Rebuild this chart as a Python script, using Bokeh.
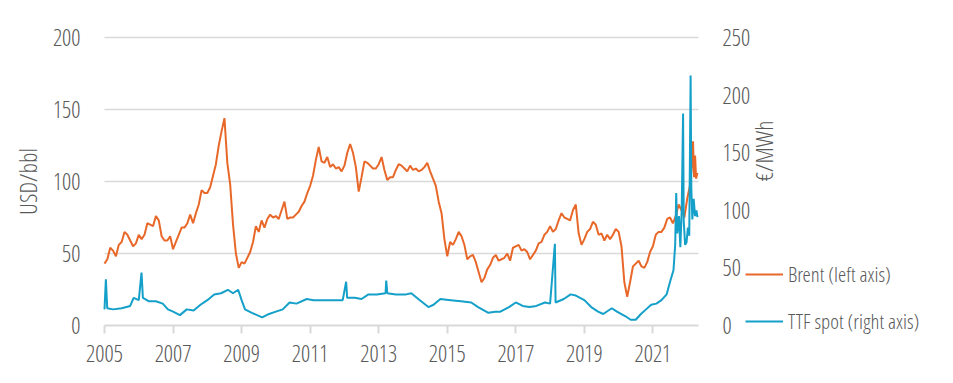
import math
from bokeh.plotting import figure
from bokeh.models import Range1d, LinearAxis, FixedTicker, Legend, LegendItem
from bokeh.embed import file_html
from bokeh.resources import INLINE

# ---------------- data ----------------
# Brent, USD/bbl, monthly Jan 2005 .. Dec 2021
brent_monthly = [
    43, 46, 54, 52, 48, 56, 58, 65, 63, 59, 55, 57,          # 2005
    63, 60, 63, 71, 70, 69, 76, 73, 62, 59, 59, 62,          # 2006
    53, 58, 63, 68, 68, 71, 77, 71, 78, 84, 94, 92,          # 2007
    92, 96, 104, 112, 125, 135, 144, 113, 98, 70, 50, 40,    # 2008
    44, 43, 47, 51, 58, 69, 65, 73, 68, 74, 77, 75,          # 2009
    76, 74, 80, 86, 74, 75, 75, 77, 79, 83, 86, 92,          # 2010
    97, 104, 115, 124, 114, 113, 117, 110, 112, 109, 110, 107,  # 2011
    111, 120, 126, 120, 110, 93, 103, 114, 113, 111, 109, 109,  # 2012
    112, 117, 108, 101, 103, 103, 108, 112, 111, 109, 107, 111,  # 2013
    108, 109, 107, 108, 110, 113, 107, 102, 97, 86, 78, 60,  # 2014
    48, 58, 56, 60, 65, 62, 56, 46, 48, 49, 44, 37,          # 2015
    30, 33, 39, 42, 47, 49, 45, 46, 47, 50, 45, 54,          # 2016
    55, 56, 52, 53, 51, 46, 49, 52, 57, 58, 63, 65,          # 2017
    69, 65, 67, 73, 78, 75, 74, 73, 80, 84, 64, 56,          # 2018
    60, 65, 67, 72, 70, 63, 64, 59, 63, 60, 63, 67,          # 2019
    65, 55, 30, 20, 30, 41, 43, 45, 41, 40, 44, 51,          # 2020
    55, 63, 65, 65, 68, 74, 75, 71, 76, 84, 80, 75,          # 2021
]
brent_2022_dates = [2022.0, 2022.08, 2022.14, 2022.17, 2022.2, 2022.23, 2022.26, 2022.3]
brent_2022 = [88, 97, 112, 128, 103, 118, 102, 106]

# TTF spot, EUR/MWh
ttf_dates = [
    2005.00, 2005.04, 2005.08, 2005.25, 2005.5, 2005.75, 2005.85,
    2006.0, 2006.08, 2006.12, 2006.3, 2006.5, 2006.7, 2006.85,
    2007.0, 2007.2, 2007.4, 2007.6, 2007.8,
    2008.0, 2008.2, 2008.4, 2008.6, 2008.75, 2008.9,
    2009.0, 2009.1, 2009.3, 2009.6, 2009.8,
    2010.0, 2010.2, 2010.4, 2010.6, 2010.9,
    2011.1, 2011.4, 2011.7, 2011.95, 2012.05, 2012.08, 2012.3, 2012.5, 2012.7, 2012.95,
    2013.2, 2013.22, 2013.25, 2013.5, 2013.8, 2013.95,
    2014.2, 2014.45, 2014.6, 2014.8,
    2015.1, 2015.4, 2015.7, 2015.9,
    2016.2, 2016.4, 2016.55, 2016.8,
    2017.0, 2017.2, 2017.4, 2017.6, 2017.85,
    2018.0, 2018.14, 2018.16, 2018.4, 2018.6, 2018.75,
    2019.0, 2019.2, 2019.4, 2019.55, 2019.8, 2019.95,
    2020.2, 2020.35, 2020.5, 2020.65, 2020.8, 2020.95,
    2021.1, 2021.25, 2021.4, 2021.5, 2021.6, 2021.65, 2021.68, 2021.71,
    2021.76, 2021.8, 2021.84, 2021.88, 2021.9, 2021.94, 2021.98,
    2022.02, 2022.06, 2022.1, 2022.12, 2022.15, 2022.19, 2022.23, 2022.27, 2022.3,
]
ttf_values = [
    14, 40, 15, 14, 15, 17, 24,
    22, 46, 24, 21, 21, 19, 14,
    12, 9, 14, 13, 18,
    22, 27, 28, 31, 28, 31,
    22, 14, 11, 7, 10,
    12, 14, 20, 19, 23,
    22, 22, 22, 22, 38, 24, 24, 23, 27, 27,
    28, 39, 28, 27, 27, 28,
    22, 16, 18, 23,
    22, 21, 20, 16,
    11, 12, 12, 16,
    20, 17, 16, 17, 20,
    19, 71, 20, 23, 27, 26,
    22, 16, 12, 10, 15, 12,
    8, 5, 5, 10, 14, 18,
    19, 22, 27, 38, 48, 70, 115, 80,
    95, 68, 100, 184, 90, 70, 72,
    85, 78, 217, 120, 92, 110, 95, 100, 94,
]

y_ticks_left = [0, 50, 100, 150, 200]
y_ticks_right = [0, 50, 100, 150, 200, 250]
grid_values = [50, 100, 150, 200]
x_ticks = [2005, 2007, 2009, 2011, 2013, 2015, 2017, 2019, 2021]
legend_labels = ["Brent (left axis)", "TTF spot (right axis)"]
left_title = "USD/bbl"
right_title = "€/MWh"

# ---------------- styling / layout ----------------
FONT = "Open Sans Condensed Light"
TXT = "#595959"
GRID = "#D9D9D9"
ORANGE = "#E8682A"
BLUE = "#14A0C9"

W, H = 945, 378
X0, X1 = 2005.0, 2022.33          # plotted period (axis extent)
PX_LEFT, PX_RIGHT = 104, 698      # where the plotted period sits (px)
PX_TOP, PX_ZERO = 37, 325         # y of the 200 / 0 lines (px from top)
LMAX, RMAX = 200.0, 250.0

ppx = (PX_RIGHT - PX_LEFT) / (X1 - X0)
x_start = X0 - PX_LEFT / ppx
x_end = X0 + (W - PX_LEFT) / ppx
lpp = (PX_ZERO - PX_TOP) / LMAX
rpp = (PX_ZERO - PX_TOP) / RMAX
y_left = (-(H - PX_ZERO) / lpp, LMAX + PX_TOP / lpp)
y_right = (-(H - PX_ZERO) / rpp, RMAX + PX_TOP / rpp)

brent_x = [2005 + i / 12 for i in range(len(brent_monthly))] + brent_2022_dates
brent_y = brent_monthly + brent_2022

p = figure(width=W, height=H, output_backend="svg", toolbar_location=None,
           x_range=Range1d(x_start, x_end), y_range=Range1d(*y_left),
           min_border=0, min_border_left=0, min_border_right=0,
           min_border_top=0, min_border_bottom=0,
           x_axis_location=None, y_axis_location=None)
p.extra_y_ranges = {"ttf": Range1d(*y_right)}
p.outline_line_color = None
p.xgrid.grid_line_color = None
p.ygrid.grid_line_color = None

# horizontal gridlines across the plotted period only
p.segment(x0=[X0] * len(grid_values), x1=[X1] * len(grid_values),
          y0=grid_values, y1=grid_values, line_color=GRID, line_width=1.5)

r_brent = p.line(brent_x, brent_y, line_color=ORANGE, line_width=2)
r_ttf = p.line(ttf_dates, ttf_values, line_color=BLUE, line_width=2, y_range_name="ttf")


def style_labels(ax):
    ax.major_label_text_font = FONT
    ax.major_label_text_font_size = "23px"
    ax.major_label_text_color = TXT
    ax.minor_tick_line_color = None


def style_title(ax):
    ax.axis_label_text_font = FONT
    ax.axis_label_text_font_size = "24px"
    ax.axis_label_text_font_style = "normal"
    ax.axis_label_text_color = TXT


# bottom axis at y = 0
xa = LinearAxis(ticker=FixedTicker(ticks=x_ticks), fixed_location=0, bounds=(X0, X1))
xa.axis_line_color = GRID
xa.axis_line_width = 2
xa.major_tick_line_color = GRID
xa.major_tick_line_width = 2
xa.major_tick_out = 8
xa.major_tick_in = 0
xa.major_label_standoff = 11
style_labels(xa)
p.add_layout(xa, "below")

# left axis at start of the period
ya = LinearAxis(ticker=FixedTicker(ticks=y_ticks_left), fixed_location=X0, bounds=(0, LMAX))
ya.axis_line_color = None
ya.major_tick_line_color = None
ya.major_tick_out = 0
ya.major_tick_in = 0
ya.major_label_standoff = 24
style_labels(ya)
ya.axis_label = left_title
style_title(ya)
ya.axis_label_standoff = 6
p.add_layout(ya, "left")

# right axis at end of the period
ra = LinearAxis(y_range_name="ttf", ticker=FixedTicker(ticks=y_ticks_right),
                fixed_location=X1, bounds=(0, RMAX))
ra.axis_line_color = None
ra.major_tick_line_color = None
ra.major_tick_out = 0
ra.major_tick_in = 0
ra.major_label_standoff = 24
style_labels(ra)
ra.axis_label = right_title
style_title(ra)
ra.axis_label_standoff = 10
try:
    ra.axis_label_orientation = math.pi / 2
except Exception:
    pass
p.add_layout(ra, "right")

legend = Legend(items=[LegendItem(label=legend_labels[0], renderers=[r_brent]),
                       LegendItem(label=legend_labels[1], renderers=[r_ttf])],
                location=(745, H - 335))
legend.border_line_color = None
legend.background_fill_alpha = 0
legend.padding = 0
legend.margin = 0
legend.glyph_width = 38
legend.glyph_height = 20
legend.label_height = 20
legend.label_standoff = 5
legend.spacing = 19
legend.label_text_font = FONT
legend.label_text_font_size = "21px"
legend.label_text_color = TXT
p.add_layout(legend)

open("out.html", "w").write(file_html(p, INLINE))
